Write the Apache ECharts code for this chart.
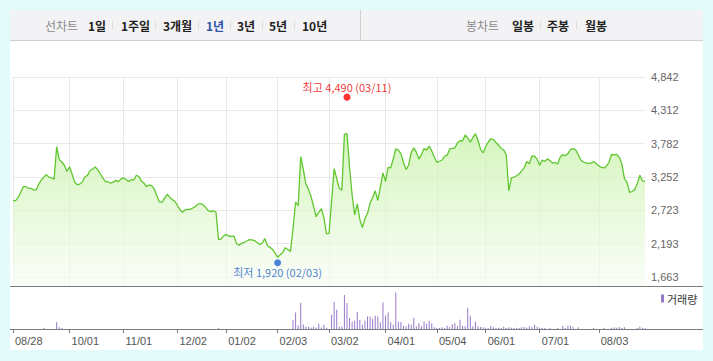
<!DOCTYPE html>
<html><head><meta charset="utf-8">
<script src="https://cdn.jsdelivr.net/npm/echarts@6/dist/echarts.min.js"></script>
<style>
html,body{margin:0;padding:0;background:#e4fbfc;}
#panel{position:absolute;left:10px;top:10px;width:693px;height:340px;background:#fff;}
#tabbar{position:absolute;left:10px;top:10px;width:693px;height:30px;background:#f3f3f5;border-bottom:1px solid #cfcfcf;}
#c{position:absolute;left:0;top:0;width:713px;height:361px;}
</style>
</head><body>
<div id="panel"></div><div id="tabbar"></div>
<div id="c"></div>
<script>
// ---- data ----
const price = [
2876,2876,2924,3011,3098,3098,3073,3073,3046,3050,
3135,3205,3250,3291,3249,3237,3218,3734,3531,3491,
3439,3340,3415,3300,3173,3129,3141,3173,3256,3278,
3356,3380,3412,3366,3304,3234,3178,3178,3154,3170,
3199,3178,3219,3238,3213,3183,3213,3202,3280,3261,
3186,3153,3100,3126,3110,3059,2954,2858,2850,2916,
2978,2932,2893,2863,2800,2733,2693,2731,2739,2739,
2760,2785,2820,2830,2811,2766,2717,2704,2712,2696,
2262,2267,2316,2337,2315,2310,2313,2197,2167,2199,
2215,2235,2256,2254,2242,2210,2178,2199,2274,2164,
2134,2104,2045,1975,2016,2054,2129,2099,2068,2434,
2855,2796,3575,3372,3141,3056,2944,2787,2621,2695,
2747,2609,2354,2354,2863,3386,3227,3073,3043,3930,
3945,3408,2962,2649,2827,2578,2450,2591,2675,2838,
2928,3033,2879,3090,3319,3183,3405,3396,3537,3702,
3682,3625,3483,3370,3443,3640,3718,3647,3537,3610,
3704,3679,3745,3664,3567,3486,3503,3523,3586,3599,
3698,3706,3714,3796,3830,3823,3922,3876,3806,3881,
3941,3837,3691,3636,3737,3809,3863,3845,3801,3758,
3706,3683,3602,3030,3240,3252,3272,3299,3349,3402,
3497,3464,3586,3583,3537,3440,3521,3503,3540,3513,
3473,3484,3459,3569,3609,3590,3625,3690,3702,3685,
3609,3523,3491,3475,3470,3470,3500,3467,3429,3404,
3396,3428,3486,3613,3604,3613,3562,3462,3225,3166,
3007,3022,3052,3149,3280,3189,3178
];
const volume = [
0,0,0,0,0,0,0,0,0,0,
0,0,10,0,0,0,0,67,17,10,
0,0,0,0,0,0,0,0,0,0,
0,0,0,0,0,0,0,0,0,0,
0,0,0,0,0,0,0,0,0,0,
0,0,0,0,0,0,0,0,0,0,
0,0,0,0,0,0,0,0,0,0,
0,0,0,0,0,0,0,0,0,0,
10,0,0,0,0,0,0,0,0,0,
0,0,0,0,0,0,0,0,0,0,
0,0,0,0,0,0,0,0,0,87,
165,35,265,45,25,23,15,23,15,53,
15,43,13,0,143,273,193,23,25,343,
263,112,73,82,172,93,43,83,127,123,
103,133,127,67,267,137,167,67,43,367,
73,73,33,27,53,43,113,27,57,27,
77,53,83,57,17,10,10,17,10,33,
20,47,57,27,93,33,27,213,133,27,
73,27,20,17,13,10,33,17,10,13,
10,23,10,17,13,10,13,10,17,20,
13,27,17,43,23,13,10,10,0,10,
0,0,10,0,33,10,33,33,23,0,
17,0,0,0,0,0,10,0,0,0,
10,0,0,13,17,13,20,10,17,0,
0,0,0,10,23,13,10
];
const tickIndex  = [0,22,43,64,83,103,123,145,165,184,205,228];
const tickLabels = ['08/28','10/01','11/01','12/02','01/02','02/03','03/02','04/01','05/04','06/01','07/01','08/03'];
const yTicks = [1663,2193,2723,3252,3782,4312,4842];
const extremeIdx  = [130,103];
const extremeVal  = [4490,1920];
const extremeText = ['최고 4,490 (03/11)','최저 1,920 (02/03)'];
const periodTabs = ['1일','1주일','3개월','1년','3년','5년','10년'];
const candleTabs = ['일봉','주봉','월봉'];
const volumeName = '거래량';

// ---- chart ----
const KR = "'Noto Sans CJK KR', sans-serif";
const NUM = "'Liberation Sans', Arial, sans-serif";
const cats = price.map((_, i) => String(i));
const isTick = i => tickIndex.indexOf(i) >= 0;

const graphics = [];
function txt(x, t, fill, weight) {
  graphics.push({type:'text', x:x, y:25.5, style:{text:t, fill:fill,
    font: (weight||'normal') + " 12px 'Noto Sans CJK KR', sans-serif",
    align:'left', verticalAlign:'middle', textAlign:'left', textVerticalAlign:'middle'}});
}
function sep(x) {
  graphics.push({type:'line', shape:{x1:x, y1:20.5, x2:x, y2:29.5}, style:{stroke:'#dcdcdc', lineWidth:1}});
}
txt(45, '선차트', '#8a8a8a');
const pX = [88,121,163,206,237,269,302];
const pSep = [112.5,155.5,198.5,230.5,262.5,294.5];
periodTabs.forEach((t, k) => txt(pX[k], t, k === 3 ? '#3153a8' : '#222', 'bold'));
pSep.forEach(sep);
txt(466, '봉차트', '#8a8a8a');
const cX = [512,547,585];
candleTabs.forEach((t, k) => txt(cX[k], t, '#222', 'bold'));
[540.5,576.5].forEach(sep);
graphics.push({type:'line', shape:{x1:360.5,y1:10,x2:360.5,y2:40}, style:{stroke:'#d0d0d0', lineWidth:1}});
graphics.push({type:'line', shape:{x1:10,y1:286.5,x2:703,y2:286.5}, style:{stroke:'#7d7d7d', lineWidth:1.2}, z:10});
graphics.push({type:'line', shape:{x1:10,y1:329.5,x2:703,y2:329.5}, style:{stroke:'#7d7d7d', lineWidth:1}, z:10});

const chart = echarts.init(document.getElementById('c'), null, {renderer:'svg'});
chart.setOption({
  animation:false,
  backgroundColor:'transparent',
  graphic: graphics,
  legend: {data:[volumeName], left:661, top:293, icon:'rect', itemWidth:3, itemHeight:8, itemGap:4,
    padding:0, textStyle:{fontFamily:KR, fontSize:11, color:'#333', padding:[0,0,0,-2]}},
  grid: [
    {left:13, right:68, top:77, bottom:75},
    {left:13, right:68, top:287, bottom:32}
  ],
  xAxis: [
    {type:'category', gridIndex:0, data:cats, boundaryGap:false,
      axisLine:{show:false}, axisTick:{show:false}, axisLabel:{show:false},
      splitLine:{show:true, interval:(i)=>isTick(i), lineStyle:{color:'#e8e8e8', width:1}}},
    {type:'category', gridIndex:1, data:cats, boundaryGap:false,
      axisLine:{show:false},
      axisTick:{show:true, interval:(i)=>isTick(i), length:4, lineStyle:{color:'#777'}},
      axisLabel:{interval:(i)=>isTick(i), formatter:(v)=>tickLabels[tickIndex.indexOf(+v)],
        align:'left', margin:6, padding:[0,0,0,2], color:'#555', fontFamily:NUM, fontSize:11},
      splitLine:{show:false}}
  ],
  yAxis: [
    {type:'value', gridIndex:0, position:'right', min:1520, max:4842,
      axisLine:{show:false}, axisTick:{show:false, customValues:yTicks},
      axisLabel:{customValues:yTicks, formatter:(v)=>Math.round(v).toLocaleString('en-US'),
        margin:6, color:'#666', fontFamily:NUM, fontSize:11},
      splitLine:{show:true, lineStyle:{color:'#e8e8e8', width:1}}},
    {type:'value', gridIndex:1, min:0, max:423, show:false, splitLine:{show:false}}
  ],
  series: [
    {type:'line', name:'price', xAxisIndex:0, yAxisIndex:0, data:price, symbol:'none',
      lineStyle:{color:'#5fc72f', width:1.3},
      areaStyle:{color:new echarts.graphic.LinearGradient(0,0,0,1,[
        {offset:0, color:'#c4f1a3'}, {offset:1, color:'#f8fdf5'}])},
      z:2},
    {type:'scatter', name:'extremes', xAxisIndex:0, yAxisIndex:0, symbolSize:7, z:5,
      data:[
        {value:[extremeIdx[0], extremeVal[0]], symbolOffset:[0,-2], itemStyle:{color:'#ff0000'},
          label:{show:true, position:'top', distance:1, formatter:extremeText[0], color:'#ee0000', fontFamily:KR, fontSize:11}},
        {value:[extremeIdx[1], extremeVal[1]], symbolOffset:[0,2], itemStyle:{color:'#1f63d3'},
          label:{show:true, position:'bottom', distance:0, formatter:extremeText[1], color:'#1f5fc8', fontFamily:KR, fontSize:11}}
      ]},
    {type:'bar', name:volumeName, xAxisIndex:1, yAxisIndex:1, data:volume, barWidth:1,
      itemStyle:{color:'#9678c8'}}
  ]
});
</script>
</body></html>
